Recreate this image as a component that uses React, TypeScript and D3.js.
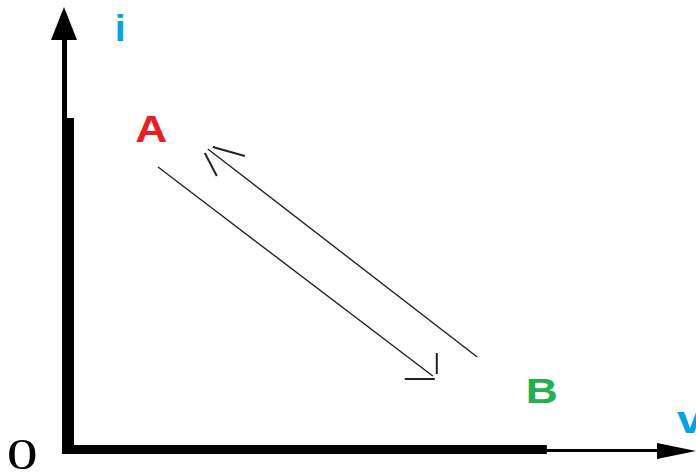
import React from "react";
import * as d3 from "d3";

// Data (in arbitrary chart units; origin = O)
const pathAB: [number, number][] = [[15, 70.5], [60.8, 18.25]]; // A -> B (downward)
const pathBA: [number, number][] = [[68.2, 23], [23.3, 75]]; // B -> A (upward)
const labelNames = ["A", "B", "i", "v", "0"];
const labelX = [11.2, 76.3, 7.8, 101.5, -10.2];
const labelY = [76.75, 11.5, 102, 4, -5];
const labelColors = ["#ed1c24", "#22b14c", "#00a2e8", "#00a2e8", "#000000"];

const W = 696;
const H = 473;

export default function App() {
  const x = d3.scaleLinear().domain([0, 100]).range([68, 668]);
  const y = d3.scaleLinear().domain([0, 100]).range([449, 49]);
  const line = d3.line<[number, number]>().x((d) => x(d[0])).y((d) => y(d[1]));

  const ox = x(0);
  const oy = y(0);

  // open arrowhead segments at the end of A->B
  const ab1 = pathAB[1];
  const tipAB = [x(ab1[0]) + 2, y(ab1[1]) + 2];
  // arrowhead at end of B->A
  const ba1 = pathBA[1];
  const tipBA = [x(ba1[0]), y(ba1[1])];

  const sizes: Record<string, { fs: number; len: number; family: string; weight: string }> = {
    A: { fs: 37, len: 32, family: "Liberation Sans, Arial, sans-serif", weight: "bold" },
    B: { fs: 35, len: 32, family: "Liberation Sans, Arial, sans-serif", weight: "bold" },
    i: { fs: 36, len: 11, family: "Liberation Sans, Arial, sans-serif", weight: "bold" },
    v: { fs: 38, len: 26, family: "Liberation Sans, Arial, sans-serif", weight: "bold" },
    "0": { fs: 45, len: 31, family: "Liberation Serif, Times New Roman, serif", weight: "normal" },
  };

  return (
    <svg width={W} height={H} style={{ position: "absolute", left: 0, top: 0, background: "#fff" }}>
      {/* y axis */}
      <rect x={ox - 6} y={y(82.75)} width={12} height={oy + 5 - y(82.75)} fill="#000" />
      <rect x={ox - 6} y={38} width={5} height={y(82.75) - 38 + 1} fill="#000" />
      <path d={`M${ox - 4},7 L${ox - 17},40 L${ox + 9},40 Z`} fill="#000" />
      {/* x axis */}
      <rect x={ox - 6} y={oy - 4} width={x(79.8) - (ox - 6)} height={9} fill="#000" />
      <rect x={x(79.8) - 1} y={oy} width={659 - x(79.8)} height={3} fill="#000" />
      <path d={`M696,${oy + 2} L657,${oy - 6} L657,${oy + 10} Z`} fill="#000" />

      {/* process lines */}
      <path d={line(pathAB) ?? ""} fill="none" stroke="#222" strokeWidth={1.4} />
      <path d={line(pathBA) ?? ""} fill="none" stroke="#222" strokeWidth={1.4} />
      {/* arrowhead for A->B: open L */}
      <line x1={tipAB[0] + 2} y1={tipAB[1] - 25} x2={tipAB[0] + 2} y2={tipAB[1] - 4} stroke="#222" strokeWidth={2} />
      <line x1={tipAB[0] - 30} y1={tipAB[1] + 1} x2={tipAB[0]} y2={tipAB[1] + 1} stroke="#222" strokeWidth={2} />
      {/* arrowhead for B->A */}
      <line x1={tipBA[0] + 5} y1={tipBA[1] - 2} x2={tipBA[0] + 37} y2={tipBA[1] + 7} stroke="#222" strokeWidth={2} />
      <line x1={tipBA[0] - 3} y1={tipBA[1] + 4} x2={tipBA[0] + 9} y2={tipBA[1] + 27} stroke="#222" strokeWidth={2} />

      {/* labels */}
      {labelNames.map((n, k) => {
        const s = sizes[n];
        return (
          <text
            key={n}
            x={x(labelX[k])}
            y={y(labelY[k])}
            fill={labelColors[k]}
            fontSize={s.fs}
            fontFamily={s.family}
            fontWeight={s.weight}
            textLength={s.len}
            lengthAdjust="spacingAndGlyphs"
          >
            {n}
          </text>
        );
      })}
    </svg>
  );
}
